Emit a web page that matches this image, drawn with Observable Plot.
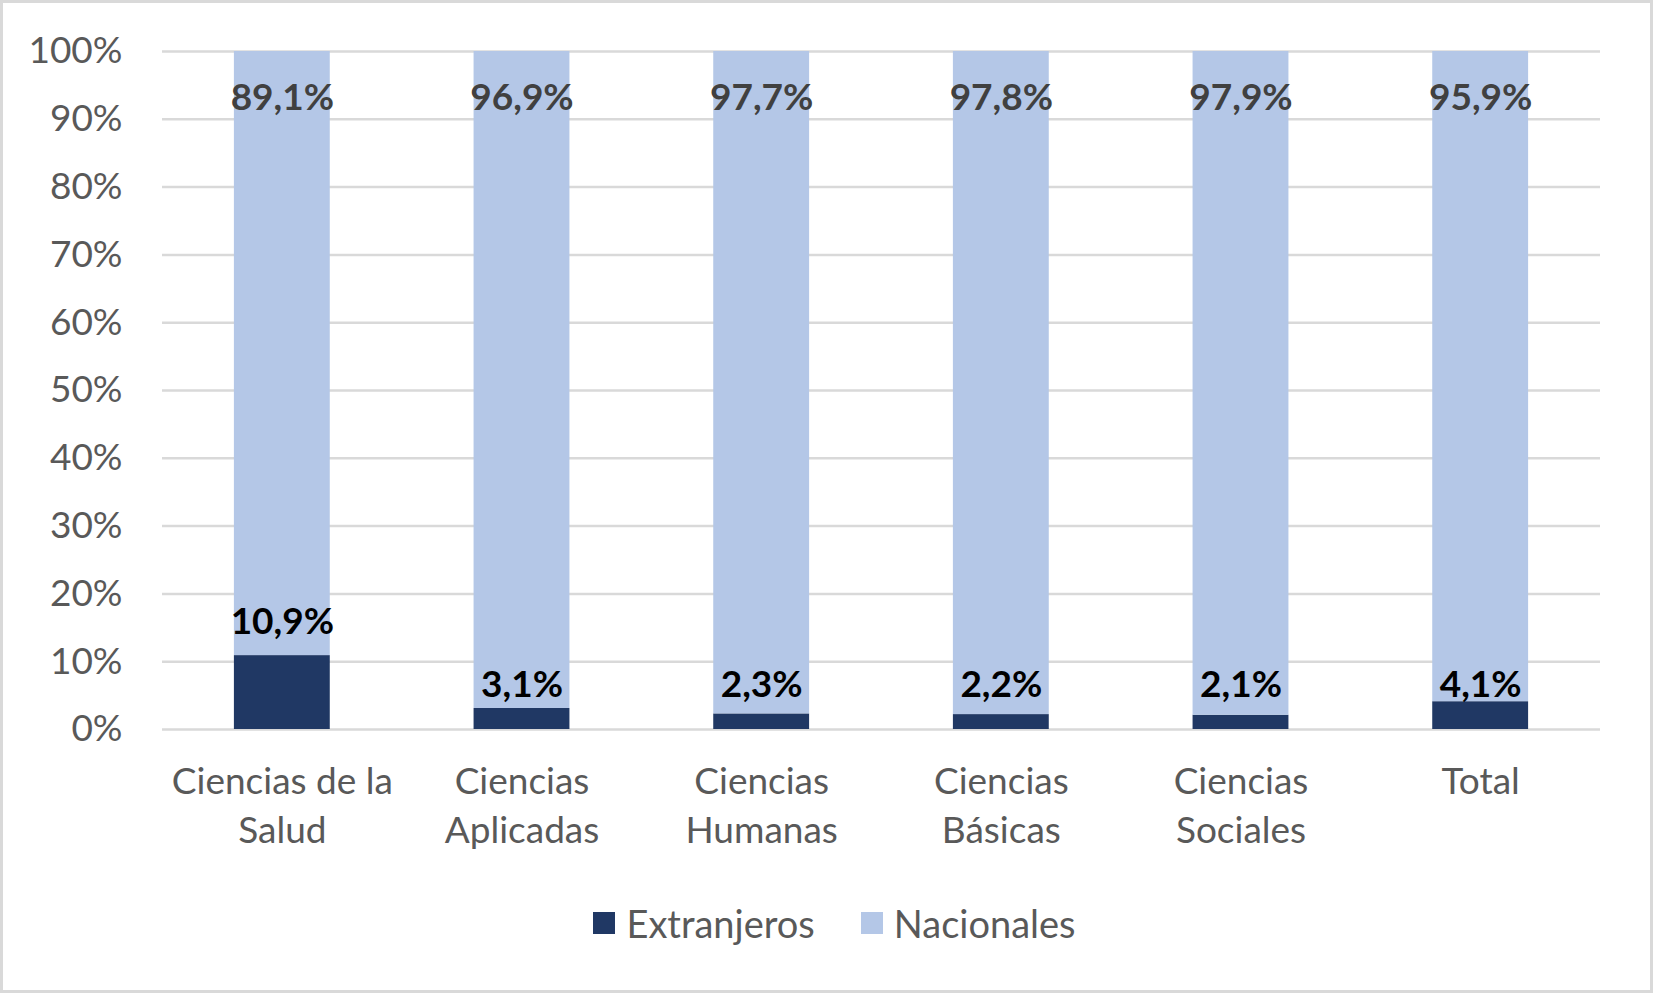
<!DOCTYPE html>
<html>
<head>
<meta charset="utf-8">
<script src="https://cdn.jsdelivr.net/npm/d3@7"></script>
<script src="https://cdn.jsdelivr.net/npm/@observablehq/plot@0.6"></script>
<style>
  html, body { margin: 0; padding: 0; background: #fff; }
  #wrap { position: relative; width: 1653px; height: 993px; overflow: hidden; background: #fff; }
  #chart { position: absolute; left: 0; top: 0; }
  #frame { position: absolute; left: 0; top: 0; width: 1653px; height: 993px; box-sizing: border-box;
           border: 3px solid #d9d9d9; pointer-events: none; }
  #legend { position: absolute; left: 8px; top: 900px; width: 1653px; display: flex; justify-content: center;
            align-items: center; font-family: Lato, sans-serif; font-size: 38px; color: #595959; }
  .item { display: flex; align-items: center; }
  .item + .item { margin-left: 46px; }
  .sw { width: 22px; height: 22px; margin-right: 11px; }
</style>
</head>
<body>
<div id="wrap">
  <div id="chart"></div>
  <div id="legend"></div>
  <div id="frame"></div>
</div>
<script>
const categories = ["Ciencias de la Salud", "Ciencias Aplicadas", "Ciencias Humanas", "Ciencias Básicas", "Ciencias Sociales", "Total"];
const xTickLabels = ["Ciencias de la\nSalud", "Ciencias\nAplicadas", "Ciencias\nHumanas", "Ciencias\nBásicas", "Ciencias\nSociales", "Total"];
const extranjeros = [10.9, 3.1, 2.3, 2.2, 2.1, 4.1];
const nacionales = [89.1, 96.9, 97.7, 97.8, 97.9, 95.9];
const seriesNames = ["Extranjeros", "Nacionales"];
const seriesColors = ["#203864", "#B4C7E7"];
const yTicks = [0, 10, 20, 30, 40, 50, 60, 70, 80, 90, 100];

const fmt = v => v.toFixed(1).replace(".", ",") + "%";

const rows = categories.flatMap((c, i) => [
  {cat: c, serie: seriesNames[0], value: extranjeros[i]},
  {cat: c, serie: seriesNames[1], value: nacionales[i]}
]);
const extRows = rows.filter(d => d.serie === seriesNames[0]);
const nacRows = rows.filter(d => d.serie === seriesNames[1]);

// label sits above a tall bar, or at a fixed spot near the base for short bars
const tall = d => d.value > 8;

const chart = Plot.plot({
  width: 1653,
  height: 880,
  marginLeft: 162,
  marginRight: 53,
  marginTop: 51,
  marginBottom: 151,
  style: {fontFamily: "Lato, sans-serif", fontSize: "37px", color: "#595959", background: "transparent"},
  x: {domain: categories, paddingInner: 0.6, paddingOuter: 0.3, round: false, label: null},
  y: {domain: [0, 100], label: null},
  color: {domain: seriesNames, range: seriesColors},
  marks: [
    Plot.gridY(yTicks, {stroke: "#d9d9d9", strokeOpacity: 1, strokeWidth: 2.5}),
    Plot.barY(rows, {x: "cat", y: "value", fill: "serie"}),
    Plot.axisY(yTicks, {tickSize: 0, tickPadding: 40, tickFormat: d => d + "%", fontSize: 37, label: null}),
    Plot.axisX({tickSize: 0, tickPadding: 29, tickFormat: d => xTickLabels[categories.indexOf(d)], lineHeight: 1.34, fontSize: 37, label: null}),
    Plot.text(extRows.filter(tall), {x: "cat", y: "value", dy: -33, text: d => fmt(d.value),
      fill: "#000000", fontWeight: "bold", fontSize: 37}),
    Plot.text(extRows.filter(d => !tall(d)), {x: "cat", frameAnchor: "bottom", lineAnchor: "middle", dy: -44, text: d => fmt(d.value),
      fill: "#000000", fontWeight: "bold", fontSize: 37}),
    Plot.text(nacRows, {x: "cat", frameAnchor: "top", lineAnchor: "middle", dy: 47, text: d => fmt(d.value),
      fill: "#404040", fontWeight: "bold", fontSize: 37})
  ]
});
document.getElementById("chart").appendChild(chart);

const legend = document.getElementById("legend");
seriesNames.forEach((name, i) => {
  const item = document.createElement("div");
  item.className = "item";
  const sw = document.createElement("div");
  sw.className = "sw";
  sw.style.background = seriesColors[i];
  const label = document.createElement("span");
  label.textContent = name;
  item.appendChild(sw);
  item.appendChild(label);
  legend.appendChild(item);
});
</script>
</body>
</html>
